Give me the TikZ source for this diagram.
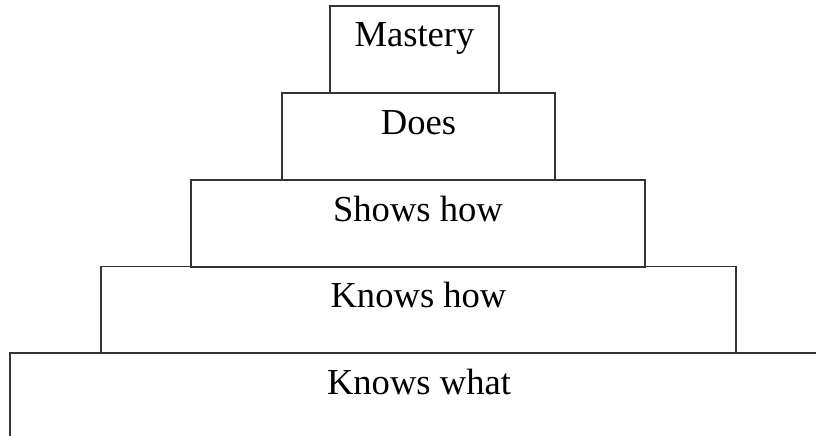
\documentclass[tikz,border=0pt]{standalone}
\usepackage{fontspec}
\setmainfont{Liberation Serif}

\begin{document}
\begin{tikzpicture}[x=1pt,y=-1pt,
    tier/.style={draw=black!80,rectangle,line width=1.2pt,inner sep=0pt,outer sep=0pt,
      minimum height=87pt,text height=41pt,text depth=46pt,
      font=\fontsize{36.6}{40}\selectfont}]
        \useasboundingbox (0,0) rectangle (816,436);
        \clip (0,0) rectangle (816,436);
        \path
          (419,396.5)   node[tier,minimum width=818pt] (knowswhat) {Knows what}
          (418.5,310)   node[tier,minimum width=635pt] (knowshow)  {Knows how}
          (418,223.5)   node[tier,minimum width=454pt] (showshow)  {Shows how}
          (418.5,136.5) node[tier,minimum width=273pt] (does)      {Does}
          (414.5,49.5)  node[tier,minimum width=169pt] (mastery)   {Mastery};
      \end{tikzpicture}
\end{document}
